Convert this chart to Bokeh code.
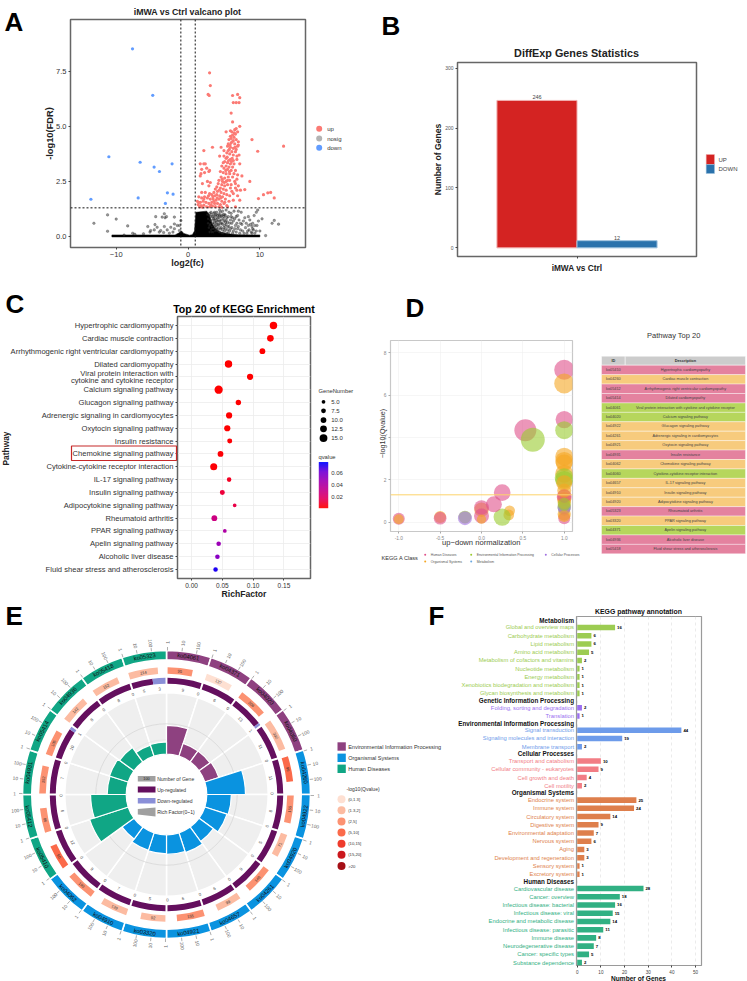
import math
import numpy as np
from bokeh.plotting import figure
from bokeh.models import Range1d, FactorRange, Span, ColumnDataSource, LabelSet, NumeralTickFormatter, LinearColorMapper
from bokeh.core.properties import value
from bokeh.embed import file_html
from bokeh.resources import INLINE
from bokeh.transform import dodge

FONT = "Liberation Sans"

# ---------- A: volcano ----------
down_points = [(-7.73,8.52),(-4.91,6.41),(-11.02,3.62),(-6.67,3.37),(-4.72,3.15),(-3.98,2.95),(-2.22,3.30),(-13.52,1.69),(-6.94,1.75),(-2.87,1.98),(-2.08,1.92),(-3.15,1.50)]
up_points = [(3.0,7.43),(3.1,6.85),(2.8,6.45),(2.95,6.4),(6.2,6.4),(6.9,6.45),(7.2,6.3),(6.3,6.08),(6.7,6.08),(7.1,6.08),(6.0,5.6),(6.2,5.2),
 (5.3,4.75),(5.9,4.8),(6.1,4.75),(6.5,4.85),(6.7,4.9),(7.2,5.0),(6.9,4.75),(6.6,4.65),(6.2,4.6),(5.9,4.55),(6.0,4.45),(6.4,4.5),(6.7,4.4),(7.0,4.3),(6.3,4.35),(5.7,4.4),(5.6,4.2),(6.0,4.25),(6.5,4.2),(6.9,4.1),(5.5,4.1),(5.9,4.05),(6.3,4.0),(6.7,3.95),(7.0,4.15),
 (8.9,4.4),(13.3,4.1),(9.7,3.87),(2.2,3.9),(3.4,4.05),(4.6,4.05),(5.0,3.9),(5.6,3.9),(6.1,3.85),(6.6,3.85),(5.4,3.8),(5.8,3.75),(6.3,3.7),(6.8,3.65),(7.1,3.7),(5.0,3.65),(4.4,3.65),(5.3,3.55),(5.9,3.5),(6.3,3.45),(6.8,3.5),
 (5.1,3.4),(5.5,3.35),(5.9,3.3),(6.4,3.3),(7.2,3.3),(5.3,3.2),(5.7,3.15),(6.2,3.15),(4.7,3.2),(5.0,3.1),(5.5,3.05),(6.0,3.0),(6.6,3.0),(1.7,3.3),(2.2,3.3),(2.4,3.3),(1.9,3.05),(2.6,3.1),(1.8,2.85),(2.9,2.95),(1.7,2.75),(2.3,2.9),(3.0,3.0),
 (4.5,2.95),(4.9,2.9),(5.3,2.85),(5.8,2.85),(6.4,2.85),(6.9,2.8),(4.6,2.7),(5.1,2.65),(5.6,2.7),(6.2,2.7),(6.8,2.6),(7.5,2.75),(4.3,2.55),(4.8,2.5),(5.3,2.5),(5.8,2.55),(6.5,2.5),(2.7,2.5),(3.1,2.45),(8.6,2.5),
 (2.0,2.4),(2.9,2.3),(4.2,2.4),(4.7,2.35),(5.1,2.3),(5.5,2.35),(6.0,2.35),(6.6,2.4),(7.0,2.3),(4.0,2.25),(4.5,2.2),(4.9,2.15),(5.3,2.1),(5.9,2.2),(6.6,2.2),(3.8,2.15),(3.6,2.0),(4.1,2.05),(4.6,2.0),(5.0,1.95),(6.1,2.05),(6.8,2.1),(7.3,2.1),(7.9,2.13),
 (1.9,2.0),(2.4,2.0),(3.0,1.95),(3.3,1.9),(3.7,1.85),(4.0,1.9),(4.4,1.85),(4.8,1.8),(5.4,1.9),(5.8,1.85),(6.3,1.95),(6.9,1.85),(7.2,1.65),(1.5,1.8),(1.9,1.75),(2.3,1.8),(2.7,1.75),(3.1,1.7),(3.5,1.7),(3.9,1.65),(4.3,1.7),(4.7,1.6),(5.2,1.7),(5.7,1.6),(6.3,1.65),
 (1.3,1.6),(1.7,1.55),(2.1,1.6),(2.5,1.55),(2.9,1.5),(3.3,1.55),(3.7,1.5),(4.1,1.5),(4.5,1.45),(5.0,1.5),(1.4,1.45),(1.8,1.4),(2.2,1.42),(2.6,1.35),(3.0,1.35),(3.4,1.38),(3.8,1.36),(4.3,1.35),(4.7,1.33),(5.4,1.4),(5.5,1.35),(6.6,1.35),(1.6,1.35),(2.0,1.33),
 (9.8,1.72),(10.5,1.9),(11.1,1.98),(11.5,2.0),(12.0,1.75),
 (6.45,4.7),(6.15,4.3),(5.85,4.15),(6.55,4.05),(5.75,3.95),(6.15,3.55),(5.65,3.45),(5.45,3.6),(6.05,3.4),(4.9,3.35),(5.25,3.0),(5.75,2.95),(4.75,2.6),(5.05,2.45),(5.5,2.55),(4.35,2.1),(4.05,1.75),(3.45,1.8),(2.85,1.85),(2.2,1.7),(4.55,1.75),(5.1,1.55),(3.2,1.42),(3.6,1.6),(1.5,1.55)]
nosig_sparse = [(-11.2,.98),(-13.1,.6),(-11.2,.24),(-10.0,.79),(-8.4,.48),(-7.7,.15),(-8.9,.06),(-5.6,.45),(-4.6,.54),(-5.2,.27),(-4.7,.3),(-4.3,.42),(-3.8,.27),(-3.3,.45),(-2.9,.3),(-2.4,.42),(-1.9,.35),(-1.5,.5),(-2.6,.15),(-1.2,.27),(-3.3,1.03),(-3.6,.88),(-3.2,.85),(-3.0,.9),(-4.5,.9),(-1.9,.88),(-1.9,.57),(-1.0,.72),(-1.2,.5),(-5.3,.2),(-6.2,.12),(-7.4,.1),(-4.0,.2),(-3.4,.18),(-2.1,.2),
 (2.9,.95),(3.1,.75),(3.0,.5),(3.2,1.1),(3.2,.3),(3.4,.9),(3.4,.6),(3.5,.2),(3.6,1.05),(3.6,.75),(3.7,.45),(3.8,.95),(3.8,.25),(3.9,.65),(4.0,1.1),(4.0,.4),(4.1,.85),(4.2,.55),(4.3,.2),(4.3,1.0),(4.4,.7),(4.5,.35),(4.6,.9),(4.7,.15),(4.7,.6),(4.8,1.15),(4.9,.8),(5.0,.4),(5.1,.25),(5.1,1.0),(5.2,.65),(5.4,.15),(5.4,.85),(5.5,.45),(5.7,1.1),(5.8,.6),(5.8,.25),(6.0,.9),(6.1,.4),(6.2,.15),(6.3,.7),(6.4,1.15),(6.6,.5),(6.7,.9),(6.7,.2),(6.9,.35),(7.1,.75),(7.2,.15),(7.4,1.1),(7.5,.55),(7.6,.25),(7.9,.85),(8.0,.4),(8.2,.15),(8.4,.5),(8.5,.3),(8.6,.75),(8.8,.2),(8.9,.45),(9.0,.6),(9.1,.3),(9.3,.15),(9.5,1.1),(9.6,.5),(9.7,1.2),(9.8,.7),(10.0,.25),(10.3,.8),(10.8,.04),(11.7,.6),(12.0,.73),(12.6,.56),(9.2,.95),(8.4,.9),(7.0,1.15),(5.3,1.2),(4.4,1.2),
 (2.7,1.0),(2.8,.8),(2.8,.6),(2.9,.4),(3.0,.2),(3.0,1.05),(3.1,.9),(3.1,.55),(3.2,.7),(3.3,1.0),(3.3,.45),(3.3,.2),(3.4,.35),(3.5,.8),(3.5,.55),(3.6,.35),(3.6,.9),(3.7,.65),(3.7,1.1),(3.8,.5),(3.8,.8),(3.9,.3),(3.9,1.0),(4.0,.75),(4.0,.55),(4.1,.25),(4.1,.95),(4.2,.7),(4.2,.35),(4.3,.85),(4.3,.5),(4.4,.2),(4.4,.95),(4.5,.6),(4.5,1.1),(4.6,.4),(4.6,.75),(4.7,.95),(4.8,.3),(4.8,.55),(4.9,.15),(4.9,1.0),(5.0,.7),(5.0,.9),(5.1,.5),(5.2,.35),(5.2,.95),(5.3,.55),(5.3,.75),(5.5,.3),(5.5,.65),(5.6,.9),(5.6,.15),(5.7,.45),(5.9,.75),(5.9,.35),(6.0,1.05),(6.1,.6),(6.2,.85),(6.3,.25),(6.5,.35),(6.5,.8),(6.8,.6),(6.9,.95),(7.0,.45),(7.3,.3),(7.3,.6),(7.7,.7),(7.8,.15),(8.1,.6),(8.3,.25),(8.7,.55),(8.9,.15),(9.0,.35),(9.3,.5),(9.5,.25)]
nosig_core_x = [-10.6,-10.6,-1.8,-1.3,-0.9,-0.6,0.2,0.6,0.9,1.1,2.6,3.0,3.3,3.7,4.4,5.5,7.0,10.0,10.0]
nosig_core_y = [-0.02,0.07,0.07,0.16,0.25,0.14,0.06,0.08,0.25,1.1,1.15,0.95,0.6,0.38,0.2,0.12,0.08,0.07,-0.02]
legend_a = ["up","nosig","down"]

# ---------- B: bars ----------
b_group = ["iMWA vs Ctrl"]
b_up = [246]
b_down = [12]

# ---------- C: KEGG dots ----------
c_path = ["Hypertrophic cardiomyopathy","Cardiac muscle contraction","Arrhythmogenic right ventricular cardiomyopathy","Dilated cardiomyopathy","Viral protein interaction with\ncytokine and cytokine receptor","Calcium signaling pathway","Glucagon signaling pathway","Adrenergic signaling in cardiomyocytes","Oxytocin signaling pathway","Insulin resistance","Chemokine signaling pathway","Cytokine-cytokine receptor interaction","IL-17 signaling pathway","Insulin signaling pathway","Adipocytokine signaling pathway","Rheumatoid arthritis","PPAR signaling pathway","Apelin signaling pathway","Alcoholic liver disease","Fluid shear stress and atherosclerosis"]
c_rich = [.133,.128,.115,.060,.095,.044,.076,.061,.058,.062,.047,.036,.061,.050,.070,.037,.054,.044,.042,.039]
c_genes = [14,12,10,14,11,16,9,11,11,8,10,13,7,8,5,10,5,7,7,7]
c_q = [.0001,.0001,.0001,.0001,.0001,.0001,.0005,.0005,.0006,.001,.001,.001,.006,.010,.012,.027,.040,.048,.054,.074]
c_legend_genes = [5.0,7.5,10.0,12.5,15.0]

# ---------- D: bubbles & table ----------
d_x = [1,1,1,0.53,1,1,1,1,1,0.34,0.33,0,0.62,1,1,1,0.25,0.25,0.15,0,0,-0.2,-0.2,-0.5,-0.5,-1,-1,1,1,1,1,1,1,1,0,1,1,1,1,1]
d_y = [7.2,6.55,4.85,4.35,4.35,3.1,2.9,2.8,2.3,.55,.35,.6,3.9,2.1,2.0,1.85,1.4,.25,.85,.7,.3,.25,.2,.25,.2,.17,.15,1.2,1.1,.72,.6,.4,.7,.2,.15,.95,1.25,1.5,.3,.85]
d_size = [20,20,17.3,22,18,18,18,17,18,10.7,10.7,14.5,24,19,18,16,16.7,17.3,16,14.7,15,12.7,14,12,12.7,12,10,15,14,13.3,12,13.3,13.3,12,9.3,13.3,14,14,12,13]
d_class = ["H","O","H","H","E","O","O","O","O","O","O","O","E","E","E","O","H","E","H","H","H","E","C","O","H","H","O","H","O","E","M","O","C","H","O","O","H","O","O","E"]
class_color = {"H":"#e0508a","O":"#f5a623","E":"#9acb2e","C":"#a06fe0","M":"#6aa8e0"}
d_legend = [("Human Diseases","H"),("Environmental Information Processing","E"),("Cellular Processes","C"),("Organismal Systems","O"),("Metabolism","M")]
t_ids = ["ko05410","ko04260","ko05412","ko05414","ko04061","ko04020","ko04922","ko04261","ko04921","ko04931","ko04062","ko04060","ko04657","ko04910","ko04920","ko05323","ko03320","ko04371","ko04936","ko05418"]
t_desc = ["Hypertrophic cardiomyopathy","Cardiac muscle contraction","Arrhythmogenic right ventricular cardiomyopathy","Dilated cardiomyopathy","Viral protein interaction with cytokine and cytokine receptor","Calcium signaling pathway","Glucagon signaling pathway","Adrenergic signaling in cardiomyocytes","Oxytocin signaling pathway","Insulin resistance","Chemokine signaling pathway","Cytokine-cytokine receptor interaction","IL-17 signaling pathway","Insulin signaling pathway","Adipocytokine signaling pathway","Rheumatoid arthritis","PPAR signaling pathway","Apelin signaling pathway","Alcoholic liver disease","Fluid shear stress and atherosclerosis"]
t_class = ["H","O","H","H","E","E","O","O","O","H","O","E","O","O","O","H","O","E","H","H"]
t_color = {"H":"#e4829f","O":"#f7cb7d","E":"#b6d65c"}

# ---------- E: circos ----------
e_ids = ["ko04061","ko04371","ko04020","ko04060","ko04260","ko04922","ko04920","ko04261","ko04657","ko04921","ko03320","ko04910","ko04062","ko05410","ko05412","ko04931","ko05414","ko04936","ko05418","ko05323"]
e_class = ["E","E","E","E","O","O","O","O","O","O","O","O","O","H","H","H","H","H","H","H"]
e_genes = [95,137,206,302,96,155,71,148,99,155,92,139,193,90,86,152,105,142,152,214]
e_q = [3.2,1.0,3.4,1.8,7.0,3.0,1.7,3.2,1.6,3.4,1.6,1.7,3.0,7.5,3.2,3.0,3.4,1.5,1.5,1.7]
e_up = [9,6,13,11,11,8,5,9,6,6,5,7,9,12,6,7,10,8,8,5]
e_down = [0,0,1,0,0,0,0,0,0,0,0,0,0,0,0,0,1,0,0,3]
e_rich = [.47,.22,.22,.24,.63,.40,.38,.29,.34,.32,.31,.30,.24,.66,.58,.31,.32,.29,.19,.20]
e_ticks = [1,10,100]
e_class_color = {"E":"#8e4180","O":"#0a93e0","H":"#10a685"}
e_class_names = [("Environmental Information Processing","E"),("Organismal Systems","O"),("Human Diseases","H")]
e_q_bins = ["(0,1.3]","(1.3,2]","(2,5]","(5,10]","(10,15]","(15,20]",">20"]
e_q_edges = [1.3,2,5,10,15,20,1e9]
e_q_colors = ["#fee0d2","#fcbba1","#fc9272","#fb6a4a","#ef3b2c","#cb181d","#a50f15"]

# ---------- F: annotation ----------
f_groups = [
 ("Metabolism","#9ccc52",["Global and overview maps","Carbohydrate metabolism","Lipid metabolism","Amino acid metabolism","Metabolism of cofactors and vitamins","Nucleotide metabolism","Energy metabolism","Xenobiotics biodegradation and metabolism","Glycan biosynthesis and metabolism"],[16,6,6,5,2,1,1,1,1]),
 ("Genetic Information Processing","#9b6ff0",["Folding, sorting and degradation","Translation"],[2,1]),
 ("Environmental Information Processing","#6d9bea",["Signal transduction","Signaling molecules and interaction","Membrane transport"],[44,19,2]),
 ("Cellular Processes","#f27d85",["Transport and catabolism","Cellular community - eukaryotes","Cell growth and death","Cell motility"],[10,9,4,2]),
 ("Organismal Systems","#de7f4c",["Endocrine system","Immune system","Circulatory system","Digestive system","Environmental adaptation","Nervous system","Aging","Development and regeneration","Sensory system","Excretory system"],[25,24,14,9,7,6,3,3,1,1]),
 ("Human Diseases","#31b083",["Cardiovascular disease","Cancer: overview","Infectious disease: bacterial","Infectious disease: viral","Endocrine and metabolic disease","Infectious disease: parasitic","Immune disease","Neurodegenerative disease","Cancer: specific types","Substance dependence"],[28,18,16,15,14,11,8,7,5,2]),
]

placed = []
def pin(p,x,y):
    p.styles = {"position":"absolute","left":f"{x}px","top":f"{y}px"}
    placed.append(p)
def panel(x0,y0,x1,y1,fx0,fy0,fx1,fy1,xr,yr,outline="#666666",ow=1.5):
    p = figure(width=x1-x0,height=y1-y0,x_range=xr,y_range=yr,min_border_left=fx0-x0,min_border_right=x1-fx1,
               min_border_top=fy0-y0,min_border_bottom=y1-fy1,output_backend="svg",toolbar_location=None,
               border_fill_color=None,background_fill_color=None)
    p.outline_line_color = outline
    p.outline_line_width = ow
    p.grid.visible = False
    for ax in (p.xaxis[0],p.yaxis[0]):
        ax.axis_line_color = None
        ax.minor_tick_line_color = None
        ax.major_tick_line_color = "#444444"
        ax.major_tick_in = 0
        ax.major_tick_out = 2
        ax.major_label_text_font = FONT
        ax.major_label_standoff = 2
    pin(p,x0,y0)
    return p

# A
pa = panel(0,0,370,270,70,19,305,247,Range1d(-16.36,16.35),Range1d(-0.5,9.85))
pa.xaxis.ticker = [-10,0,10]
pa.yaxis.ticker = [0,2.5,5,7.5]
pa.yaxis.formatter = NumeralTickFormatter(format="0.0")
pa.axis.major_label_text_font_size = "7.5px"
pa.axis.major_label_text_color = "#333333"
pa.patch(nosig_core_x,nosig_core_y,fill_color="black",line_color="black",line_width=0.5)
pa.scatter([a for a,b in nosig_sparse],[b for a,b in nosig_sparse],size=2.6,fill_color="#333333",fill_alpha=0.5,line_color="black",line_alpha=0.5,line_width=0.4)
pa.scatter([a for a,b in up_points],[b for a,b in up_points],size=3.2,fill_color="#fb7a74",line_color=None)
pa.scatter([a for a,b in down_points],[b for a,b in down_points],size=3.2,fill_color="#619cff",line_color=None)
for loc,dim in ((-1,"height"),(1,"height"),(1.3,"width")):
    pa.add_layout(Span(location=loc,dimension=dim,line_color="#111111",line_width=1,line_dash="2 2"))

# B
pb = panel(380,40,720,275,457,62,696,257,FactorRange(factors=b_group,range_padding=0),Range1d(-14.4,309.3))
pb.yaxis.ticker = [0,100,200,300]
pb.axis.major_label_text_font_size = "5px"
pb.yaxis.major_label_text_color = "#555555"
pb.xaxis.major_label_text_font_size = "8.3px"
pb.xaxis.major_label_text_font_style = "bold"
pb.xaxis.major_label_text_color = "#222222"
pb.xaxis.major_label_standoff = 4
bsrc = ColumnDataSource(dict(g=b_group,up=b_up,down=b_down,upt=[str(v) for v in b_up],downt=[str(v) for v in b_down]))
pb.vbar(x=dodge("g",-0.1675,range=pb.x_range),top="up",width=0.335,bottom=0,source=bsrc,fill_color="#d42322",line_color="#f0b0b0",line_width=1)
pb.vbar(x=dodge("g",0.1675,range=pb.x_range),top="down",width=0.335,bottom=0,source=bsrc,fill_color="#2a72ac",line_color="#9fc2dd",line_width=1)
pb.text(x=dodge("g",-0.1675,range=pb.x_range),y="up",text="upt",source=bsrc,text_font=value(FONT),text_font_size="5.5px",text_align="center",text_baseline="bottom",text_color="#444444",y_offset=-1)
pb.text(x=dodge("g",0.1675,range=pb.x_range),y="down",text="downt",source=bsrc,text_font=value(FONT),text_font_size="5.5px",text_align="center",text_baseline="bottom",text_color="#444444",y_offset=-1)

# C
stops = np.array([[255,0,0],[228,0,95],[195,0,143],[160,0,180],[115,0,215],[0,0,255]],float)
pal = []
for t in np.linspace(0,1,256):
    c = [np.interp(t,np.linspace(0,1,6),stops[:,k]) for k in range(3)]
    pal.append("#%02x%02x%02x" % tuple(int(v) for v in c))
cmap = LinearColorMapper(palette=pal,low=0.0,high=0.078)
def gene_px(n):
    return 1.7+0.41*n
pc = panel(0,300,345,600,177,316,310,578,Range1d(-0.0228,0.1931),
           FactorRange(factors=c_path[::-1],range_padding=0.2,range_padding_units="absolute",factor_padding=0))
pc.grid.visible = True
pc.grid.grid_line_color = "#ececec"
pc.grid.grid_line_width = 0.8
pc.xaxis.ticker = [0,0.05,0.10,0.15]
pc.xaxis.formatter = NumeralTickFormatter(format="0.00")
pc.xaxis.major_label_text_font_size = "6.5px"
pc.yaxis.major_label_text_font_size = "7.6px"
pc.yaxis.major_label_text_line_height = 0.85
pc.yaxis.major_label_text_color = "#333333"
pc.xaxis.major_label_text_color = "#333333"
csrc = ColumnDataSource(dict(x=c_rich,y=c_path,s=[gene_px(n) for n in c_genes],q=c_q))
pc.scatter("x","y",size="s",source=csrc,line_color=None,fill_color={"field":"q","transform":cmap})

# D
pd = panel(378,335,590,552,390,340,572,531,Range1d(-1.1,1.1),Range1d(-0.43,8.58),outline="#c8c8c8",ow=1.2)
pd.grid.visible = True
pd.grid.grid_line_color = "#f0f0f0"
pd.grid.grid_line_width = 0.6
pd.xaxis.ticker = [-1,-0.5,0,0.5,1]
pd.xaxis.formatter = NumeralTickFormatter(format="0.0")
pd.yaxis.ticker = [0,2,4,6,8]
pd.axis.major_label_text_font_size = "4.8px"
pd.axis.major_label_text_color = "#888888"
pd.axis.major_tick_line_color = "#aaaaaa"
pd.add_layout(Span(location=1.3,dimension="width",line_color="#fdd36b",line_width=1))
pd.scatter(d_x,d_y,size=d_size,fill_color=[class_color[c] for c in d_class],fill_alpha=0.6,line_color=None)

# E
pe = figure(width=332,height=332,x_range=Range1d(-166,166),y_range=Range1d(-166,166),min_border=0,output_backend="svg",
            toolbar_location=None,border_fill_color=None,background_fill_color=None,outline_line_color=None)
pe.axis.visible = False
pe.grid.visible = False
pin(pe,0,628)
n = len(e_ids)
step = 360.0/n
a0 = np.arange(n)*step
a1 = a0+step
def wedge(r0,r1,s,e,color,line=None,lw=0.0,alpha=1.0):
    pe.annular_wedge(x=0,y=0,inner_radius=r0,outer_radius=r1,start_angle=list(90-np.asarray(e)),end_angle=list(90-np.asarray(s)),
                     start_angle_units="deg",end_angle_units="deg",fill_color=color,line_color=line,line_width=lw,fill_alpha=alpha)
ccol = [e_class_color[c] for c in e_class]
wedge(40.3,101.7,a0,a1,"#efefef",line="white",lw=1.5)
pe.arc(x=0,y=0,radius=70.7,start_angle=0,end_angle=2*math.pi,line_color="#d4d4d4",line_width=0.7)
pe.arc(x=0,y=0,radius=55,start_angle=0,end_angle=2*math.pi,line_color="#e2e2e2",line_width=0.5)
wedge(40.3,[40.3+61.4*v for v in e_rich],a0,a1,ccol,line="white",lw=1.2)
wedge(134.7,144,a0,a1,ccol,line="white",lw=1.6)
upfrac = np.array(e_up)/(np.array(e_up)+np.array(e_down))
wedge(110.7,116.7,a0+0.5,a0+0.5+(step-1.0)*upfrac,"#640f5e")
has_down = np.array(e_down)>0
wedge(110.7,116.7,(a0+0.5+(step-1.0)*upfrac)[has_down],(a1-0.5)[has_down],"#8a8fd8")
def qcolor(v):
    for edge,c in zip(e_q_edges,e_q_colors):
        if v<=edge:
            return c
wedge(120.7,127.3,a0+0.5,a0+0.5+5.8*np.log10(e_genes),[qcolor(v) for v in e_q])
def pol(a,r):
    t = np.radians(a)
    return r*np.sin(t),r*np.cos(t)
def tang(a):
    return -a if (a<=90 or a>=270) else 180-a
def rad(a):
    return 90-a if a<180 else 270-a
def etext(a,r,txt,size,color,rot):
    x,y = pol(a,r)
    pe.text([x],[y],text=[txt],angle=[rot],angle_units="deg",text_align="center",text_baseline="middle",text_font=value(FONT),text_font_size=size,text_color=color)
for i in range(n):
    mid = a0[i]+step/2
    etext(mid,139.4,e_ids[i],"5.8px","#111111",tang(mid))
    ga = a0[i]+0.5+5.8*math.log10(e_genes[i])/2
    etext(ga,124,str(e_genes[i]),"4px","#333333",tang(ga))
    ua = a0[i]+0.5+(step-1.0)*upfrac[i]/2
    da = a0[i]+0.5+(step-1.0)*(upfrac[i]+(1-upfrac[i])/2)
    etext(ua,105.5,str(e_up[i]),"4.4px","#555555",tang(ua))
    etext(da,105.5,str(e_down[i]),"4.4px","#555555",tang(da))
    for v in e_ticks:
        ta = a0[i]+0.4+5.8*math.log10(v)
        x0,y0 = pol(ta,144)
        x1,y1 = pol(ta,147.5)
        pe.segment([x0],[y0],[x1],[y1],line_color="#777777",line_width=0.6)
        etext(ta,152,str(v),"4.8px","#666666",rad(ta))

# F
f_names,f_vals,f_cols,f_rows,h_names,h_rows = [],[],[],[],[],[]
row = 0.0
for gi,(gname,gcol,names,vals) in enumerate(f_groups):
    h_names.append(gname)
    if gi==0:
        h_rows.append(-0.85)
    else:
        h_rows.append(row-0.13)
        row += 0.74
    for nm,v in zip(names,vals):
        f_names.append(nm); f_vals.append(v); f_cols.append(gcol); f_rows.append(row)
        row += 1.0
f_y0,f_y1 = 41.05,-1.335
pf = panel(490,600,747,981,576,616,701,965,Range1d(-0.3,52.5),Range1d(f_y0,f_y1),outline="#9a9a9a",ow=1.2)
pf.xaxis.ticker = [0,10,20,30,40,50]
pf.xaxis.major_label_text_font_size = "4.6px"
pf.xaxis.major_label_text_color = "#444444"
pf.yaxis.visible = False
pf.xgrid.visible = True
pf.xgrid.grid_line_color = "#dddddd"
pf.xgrid.grid_line_dash = "3 3"
pf.xgrid.grid_line_width = 0.6
fsrc = ColumnDataSource(dict(row=f_rows,val=f_vals,col=f_cols,vt=[str(v) for v in f_vals]))
pf.hbar(y="row",right="val",left=0,height=0.68,fill_color="col",line_color=None,source=fsrc)
pf.add_layout(LabelSet(x="val",y="row",text="vt",source=fsrc,x_offset=2,text_align="left",text_baseline="middle",text_color="black",text_font=value(FONT),text_font_size=value("4.3px"),text_font_style=value("bold")))

# Overlay in page pixels: panel letters, titles, legends, table
ov = figure(width=747,height=981,x_range=Range1d(0,747),y_range=Range1d(981,0),min_border=0,output_backend="svg",
            toolbar_location=None,border_fill_color=None,background_fill_color=None,outline_line_color=None)
ov.axis.visible = False
ov.grid.visible = False
pin(ov,0,0)
def T(x,y,s,size,bold=False,color="#222222",align="left",rot=0,base="middle"):
    ov.text([x],[y],text=[s],angle=[rot],angle_units="deg",text_align=align,text_baseline=base,text_font=value(FONT),
            text_font_size=f"{size}px",text_font_style="bold" if bold else "normal",text_color=color)
def R(x0,y0,x1,y1,color,line=None,lw=0):
    ov.quad(left=[x0],right=[x1],top=[y0],bottom=[y1],fill_color=color,line_color=line,line_width=lw)
def C(x,y,d,color,alpha=1.0):
    ov.scatter([x],[y],size=d,fill_color=color,fill_alpha=alpha,line_color=None)

for s,x,y in (("A",4,21),("B",381,25),("C",5,303),("D",405,307),("E",5,615),("F",428,615)):
    T(x,y,s,26,True,"black",base="alphabetic")

T(187,11,"iMWA vs Ctrl valcano plot",8.8,True,"#222222","center")
T(49,133,"-log10(FDR)",9.3,True,"#222222","center",90)
T(187,262,"log2(fc)",9,True,"#222222","center")
for s,y,c in zip(legend_a,(128.3,138,147.3),("#fb7a74","#b3b3b3","#619cff")):
    C(318.7,y,6,c)
    T(326.7,y,s,6,False,"#333333")

T(576,52,"DiffExp Genes Statistics",10.8,True,"#222222","center")
T(437,159,"Number of Genes",8.6,True,"#222222","center",90)
R(705.7,154,714,164,"#d42322","#f0b0b0",0.5)
R(705.7,164,714,173,"#2a72ac","#9fc2dd",0.5)
T(718,159,"UP",6,False,"#444444")
T(718,168.5,"DOWN",6,False,"#444444")

T(243.5,308,"Top 20 of KEGG Enrichment",10.6,True,"black","center")
T(5,448,"Pathway",8.4,True,"#222222","center",90)
T(243.5,593,"RichFactor",8.6,True,"#222222","center")
R(71,445.5,176,460,None,"#c62828",1.2)
T(318,390.7,"GeneNumber",5.8,False,"#333333")
for v,y in zip(c_legend_genes,(401.3,410.3,419.6,428.3,437.6)):
    C(323,y,gene_px(v),"black")
    T(330.7,y,f"{v:.1f}",6,False,"#333333")
T(318,456.7,"qvalue",5.8,False,"#333333")
grad = np.linspace(0,0.078,46)
for i,q in enumerate(grad):
    y1 = 507.7-i
    R(318.3,y1-1.1,327.7,y1,pal[min(255,int(q/0.078*255))])
for v,y in ((0.06,472.7),(0.04,484.3),(0.02,496)):
    T(330.7,y,f"{v:.2f}",6,False,"#333333")

T(480.7,541.7,"up\u2212down normalization",7.6,False,"#333333","center")
T(382,433,"\u2212log10(Qvalue)",7.2,False,"#333333","center",90)
T(381,557.7,"KEGG A Class",5.6,False,"#333333")
lx = ((424.7,554.3),(470.7,554.3),(545.3,554.3),(424.7,561),(470.7,561))
for (name,k),(x,y) in zip(d_legend,lx):
    C(x,y,2,class_color[k])
    T(x+5.5,y,name,3.4,False,"#555555")

T(673.3,335,"Pathway Top 20",7.5,False,"#333333","center")
tx0,tx1,tx2 = 601,624.7,745
ty0,ty1 = 355.7,364.7
rh = 9.43
R(tx0,ty0,tx1,ty1,"#cccccc","white",0.5)
R(tx1,ty0,tx2,ty1,"#cccccc","white",0.5)
T((tx0+tx1)/2,(ty0+ty1)/2,"ID",3.9,True,"#333333","center")
T((tx1+tx2)/2,(ty0+ty1)/2,"Description",3.9,True,"#333333","center")
for i,(a,d,c) in enumerate(zip(t_ids,t_desc,t_class)):
    yt = ty1+i*rh
    R(tx0,yt,tx2,yt+rh,t_color[c],"white",0.4)
    T((tx0+tx1)/2,yt+rh/2,a,3.8,False,"#444444","center")
    T((tx1+tx2)/2,yt+rh/2,d,3.8,False,"#444444","center")

# E legends
R(137.3,775.5,155,781,"#a0a0a0")
T(146,778.2,"100",3.8,False,"#222222","center")
T(156.7,778.2,"Number of Gene",5,False,"#333333")
R(137.3,786,155,792,"#640f5e")
T(156.7,789,"Up-regulated",5,False,"#333333")
R(137.3,797.5,155,803,"#8a8fd8")
T(156.7,800.3,"Down-regulated",5,False,"#333333")
ov.patch([137.3,155,155,137.3],[808.5,807,816,814],fill_color="#a0a0a0",line_color=None)
T(156.7,811.7,"Rich Factor(0~1)",5,False,"#333333")
for (name,k),y in zip(e_class_names,(746,757.3,768.3)):
    R(337,y-4.2,345.3,y+4.2,e_class_color[k])
    T(347.7,y,name,5.5,False,"#333333")
T(346,788.7,"-log10(Qvalue)",5,False,"#333333")
for s,c,y in zip(e_q_bins,e_q_colors,(798.7,809.7,821,832,843.3,854.3,865.5)):
    C(341,y,8,c)
    T(347.7,y,s,4.2,False,"#333333")

# F category labels, placed with panel F's own row scale
def f_page_y(r):
    return 616+(r-f_y1)/(f_y0-f_y1)*(965-616)
for nm,r,c in zip(f_names,f_rows,f_cols):
    T(573.5,f_page_y(r),nm,5.8,False,c,"right")
for nm,r in zip(h_names,h_rows):
    T(573.5,f_page_y(r),nm,6.3,True,"#111111","right")
T(638,610.7,"KEGG pathway annotation",6.9,True,"#111111","center")
T(638,978,"Number of Genes",6.6,True,"#111111","center")

open("out.html","w").write(file_html(placed,INLINE))
